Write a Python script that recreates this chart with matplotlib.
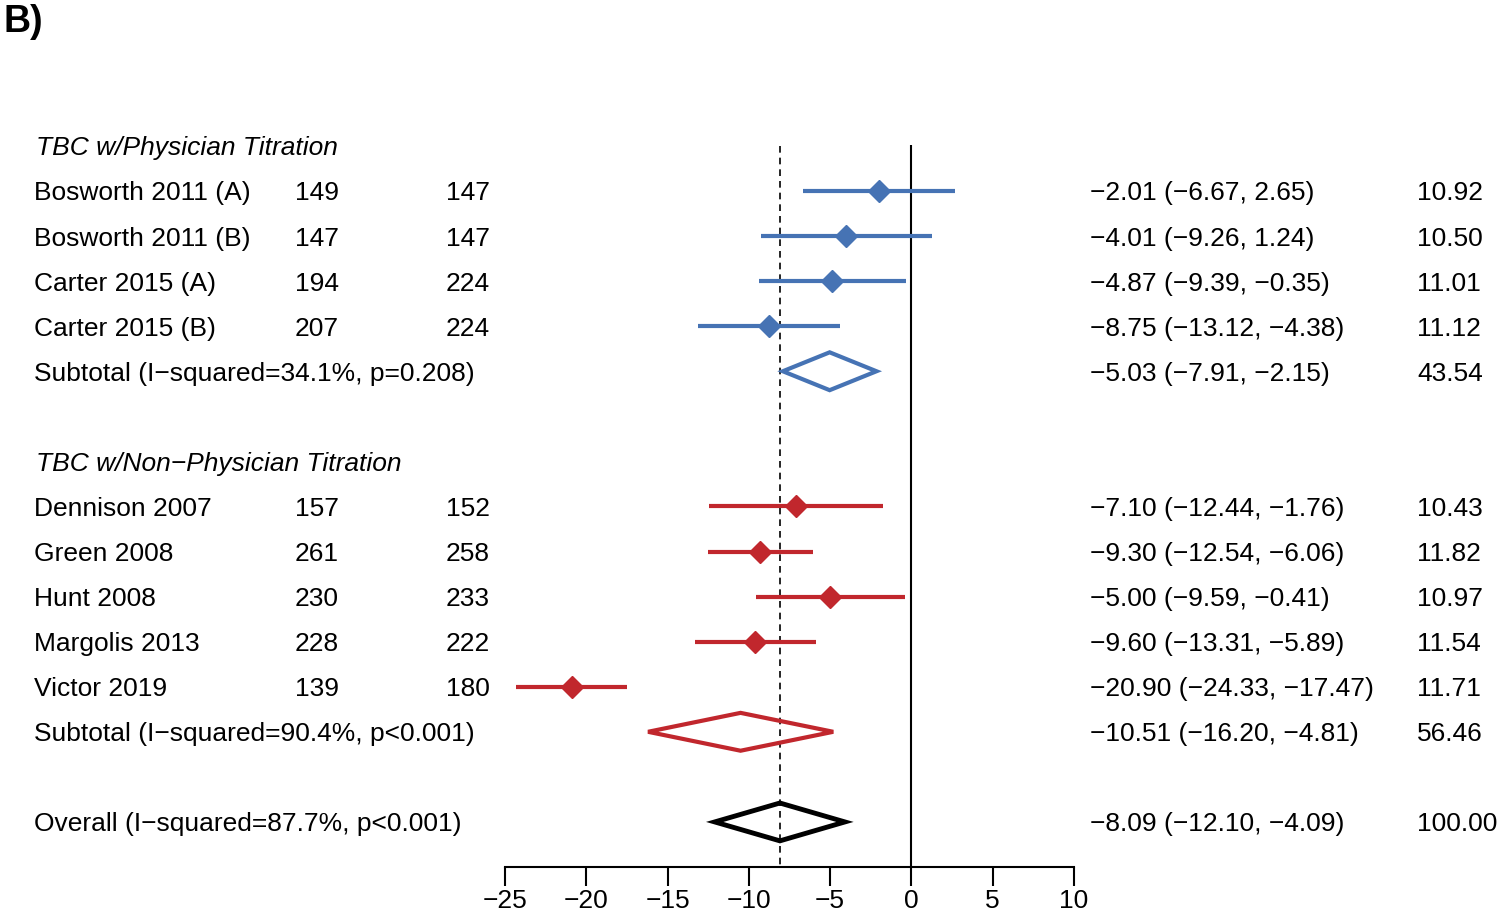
import matplotlib
matplotlib.use("Agg")
import matplotlib.pyplot as plt
from matplotlib.patches import Polygon
from matplotlib.transforms import blended_transform_factory

plt.rcParams["font.family"] = ["Liberation Sans", "DejaVu Sans"]

# data
groups = ["TBC w/Physician Titration", "TBC w/Non\u2212Physician Titration"]
studies = ["Bosworth 2011 (A)", "Bosworth 2011 (B)", "Carter 2015 (A)", "Carter 2015 (B)",
           "Dennison 2007", "Green 2008", "Hunt 2008", "Margolis 2013", "Victor 2019"]
study_group = [0, 0, 0, 0, 1, 1, 1, 1, 1]
n_int = [149, 147, 194, 207, 157, 261, 230, 228, 139]
n_ctl = [147, 147, 224, 224, 152, 258, 233, 222, 180]
es = [-2.01, -4.01, -4.87, -8.75, -7.10, -9.30, -5.00, -9.60, -20.90]
lo = [-6.67, -9.26, -9.39, -13.12, -12.44, -12.54, -9.59, -13.31, -24.33]
hi = [2.65, 1.24, -0.35, -4.38, -1.76, -6.06, -0.41, -5.89, -17.47]
weight = [10.92, 10.50, 11.01, 11.12, 10.43, 11.82, 10.97, 11.54, 11.71]

sub_labels = ["Subtotal (I\u2212squared=34.1%, p=0.208)", "Subtotal (I\u2212squared=90.4%, p<0.001)"]
sub_es = [-5.03, -10.51]
sub_lo = [-7.91, -16.20]
sub_hi = [-2.15, -4.81]
sub_w = [43.54, 56.46]

overall_label = "Overall (I\u2212squared=87.7%, p<0.001)"
overall_es, overall_lo, overall_hi, overall_w = -8.09, -12.10, -4.09, 100.00

xticks = [-25, -20, -15, -10, -5, 0, 5, 10]
colors = ["#4673b4", "#c1272d"]


def fmt(v):
    return f"{v:.2f}".replace("-", "\u2212")


def es_text(e, l, h):
    return f"{fmt(e)} ({fmt(l)}, {fmt(h)})"


W, H = 1500, 914
fig = plt.figure(figsize=(15, 9.14), dpi=100)
ax = fig.add_axes([505 / W, 1 - 867 / H, (1074 - 505) / W, (867 - 145) / H])
ax.set_xlim(-25, 10)
ax.set_ylim(16, -0.02)
for s in ["top", "left", "right"]:
    ax.spines[s].set_visible(False)
ax.spines["bottom"].set_linewidth(1.5)
ax.set_yticks([])
ax.set_xticks(xticks)
ax.set_xticklabels([str(t).replace("-", "\u2212") for t in xticks], fontsize=19)
ax.tick_params(axis="x", length=14, width=1.5, pad=2)

tr = blended_transform_factory(fig.transFigure, ax.transData)
fs = 19


def row_text(row, label, a=None, b=None, e=None, w=None):
    ax.text(34 / W, row, label, transform=tr, fontsize=fs, va="center_baseline", ha="left")
    if a is not None:
        ax.text(295 / W, row, str(a), transform=tr, fontsize=fs, va="center_baseline", ha="left")
        ax.text(446 / W, row, str(b), transform=tr, fontsize=fs, va="center_baseline", ha="left")
    if e is not None:
        ax.text(1090 / W, row, e, transform=tr, fontsize=fs, va="center_baseline", ha="left")
        ax.text(1417 / W, row, f"{w:.2f}", transform=tr, fontsize=fs, va="center_baseline", ha="left")


def diamond(row, l, c, h, color, lw):
    pts = [(l, row), (c, row - 0.42), (h, row), (c, row + 0.42)]
    ax.add_patch(Polygon(pts, closed=True, fill=False, edgecolor=color, linewidth=lw, zorder=4))


ax.axvline(0, color="black", linewidth=1.5, zorder=1)
ax.plot([overall_es, overall_es], [0, 16], color="black", linewidth=1.2,
        linestyle=(0, (4, 3)), zorder=1)

row = 0
for g, gname in enumerate(groups):
    ax.text(36 / W, row, gname, transform=tr, fontsize=fs, style="italic",
            va="center_baseline", ha="left")
    row += 1
    for i in range(len(studies)):
        if study_group[i] != g:
            continue
        ax.plot([lo[i], hi[i]], [row, row], color=colors[g], linewidth=3, solid_capstyle="butt", zorder=3)
        ax.plot(es[i], row, marker="D", markersize=11, color=colors[g], zorder=4)
        row_text(row, studies[i], n_int[i], n_ctl[i], es_text(es[i], lo[i], hi[i]), weight[i])
        row += 1
    diamond(row, sub_lo[g], sub_es[g], sub_hi[g], colors[g], 3)
    row_text(row, sub_labels[g], e=es_text(sub_es[g], sub_lo[g], sub_hi[g]), w=sub_w[g])
    row += 2

diamond(row, overall_lo, overall_es, overall_hi, "black", 3.5)
row_text(row, overall_label, e=es_text(overall_es, overall_lo, overall_hi), w=overall_w)

fig.text(3 / W, 1 - 22 / H, "B)", fontsize=27, fontweight="bold", va="center", ha="left")

fig.savefig("out.png", dpi=100)
